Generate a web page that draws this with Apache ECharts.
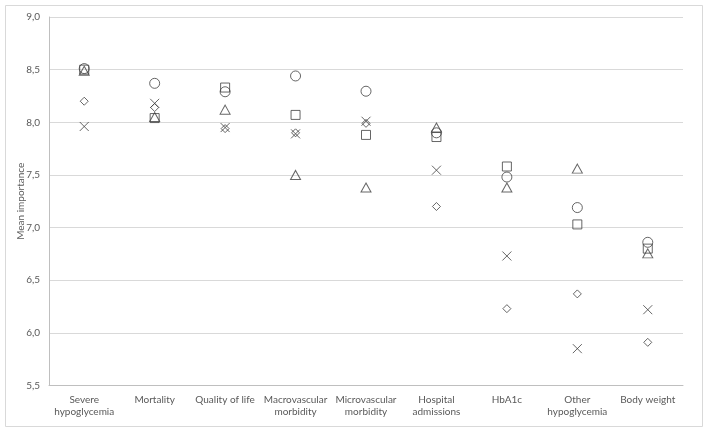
<!DOCTYPE html>
<html>
<head>
<meta charset="utf-8">
<script src="https://cdn.jsdelivr.net/npm/echarts@6/dist/echarts.min.js"></script>
<style>
html,body{margin:0;padding:0;background:#fff;}
#chart{width:709px;height:431px;}
</style>
</head>
<body>
<div id="chart"></div>
<script>
var categories = ['Severe\nhypoglycemia', 'Mortality', 'Quality of life', 'Macrovascular\nmorbidity', 'Microvascular\nmorbidity', 'Hospital\nadmissions', 'HbA1c', 'Other\nhypoglycemia', 'Body weight'];
var yTicks = [5.5, 6.0, 6.5, 7.0, 7.5, 8.0, 8.5, 9.0];
var diamondValues = [8.20, 8.14, 7.94, 7.90, 7.99, 7.20, 6.23, 6.37, 5.91];
var squareValues  = [8.50, 8.04, 8.33, 8.07, 7.88, 7.86, 7.58, 7.03, 6.80];
var triangleValues= [8.49, 8.05, 8.12, 7.50, 7.38, 7.95, 7.38, 7.56, 6.755];
var crossValues   = [7.96, 8.18, 7.95, 7.89, 8.01, 7.545, 6.73, 5.85, 6.22];
var circleValues  = [8.51, 8.37, 8.29, 8.44, 8.295, 7.90, 7.48, 7.19, 6.86];

var ink = '#404040';
function mk(name, data, symbol, size) {
  return {
    name: name, type: 'scatter', data: data, symbol: symbol, symbolSize: size,
    itemStyle: {color: 'transparent', borderColor: ink, borderWidth: 1},
    emphasis: {disabled: true}
  };
}
var chart = echarts.init(document.getElementById('chart'), null, {renderer: 'canvas'});
chart.setOption({
  animation: false,
  backgroundColor: '#ffffff',
  textStyle: {fontFamily: 'Lato'},
  graphic: [{type: 'rect', shape: {x: 5.5, y: 5.5, width: 697, height: 421}, style: {fill: 'none', stroke: '#d9d9d9', lineWidth: 1}, silent: true}],
  grid: {left: 49, right: 26, top: 17, bottom: 45.5, containLabel: false},
  xAxis: {
    type: 'category', data: categories,
    axisLine: {show: true, lineStyle: {color: '#bfbfbf'}},
    axisTick: {show: false},
    axisLabel: {color: '#595959', fontSize: 10, lineHeight: 12, margin: 8, interval: 0, fontFamily: 'Lato'},
    splitLine: {show: false}
  },
  yAxis: {
    type: 'value', min: yTicks[0], max: yTicks[yTicks.length - 1], interval: 0.5,
    name: 'Mean importance', nameLocation: 'middle', nameGap: 23, nameRotate: 90,
    nameMoveOverlap: false,
    nameTextStyle: {color: '#595959', fontSize: 10, fontFamily: 'Lato'},
    axisLine: {show: true, lineStyle: {color: '#bfbfbf'}},
    axisTick: {show: false},
    axisLabel: {color: '#595959', fontSize: 10, margin: 9, fontFamily: 'Lato',
      formatter: function (v) { return v.toFixed(1).replace('.', ','); }},
    splitLine: {show: true, lineStyle: {color: '#d9d9d9', width: 1}}
  },
  series: [
    mk('Group A', diamondValues, 'path://M5,0L10,5L5,10L0,5Z', 8),
    mk('Group B', squareValues, 'rect', 9),
    mk('Group C', triangleValues, 'triangle', [10, 9]),
    mk('Group D', crossValues, 'path://M0,0L10,10M10,0L0,10', 9),
    mk('Group E', circleValues, 'circle', 10)
  ]
});
</script>
</body>
</html>
